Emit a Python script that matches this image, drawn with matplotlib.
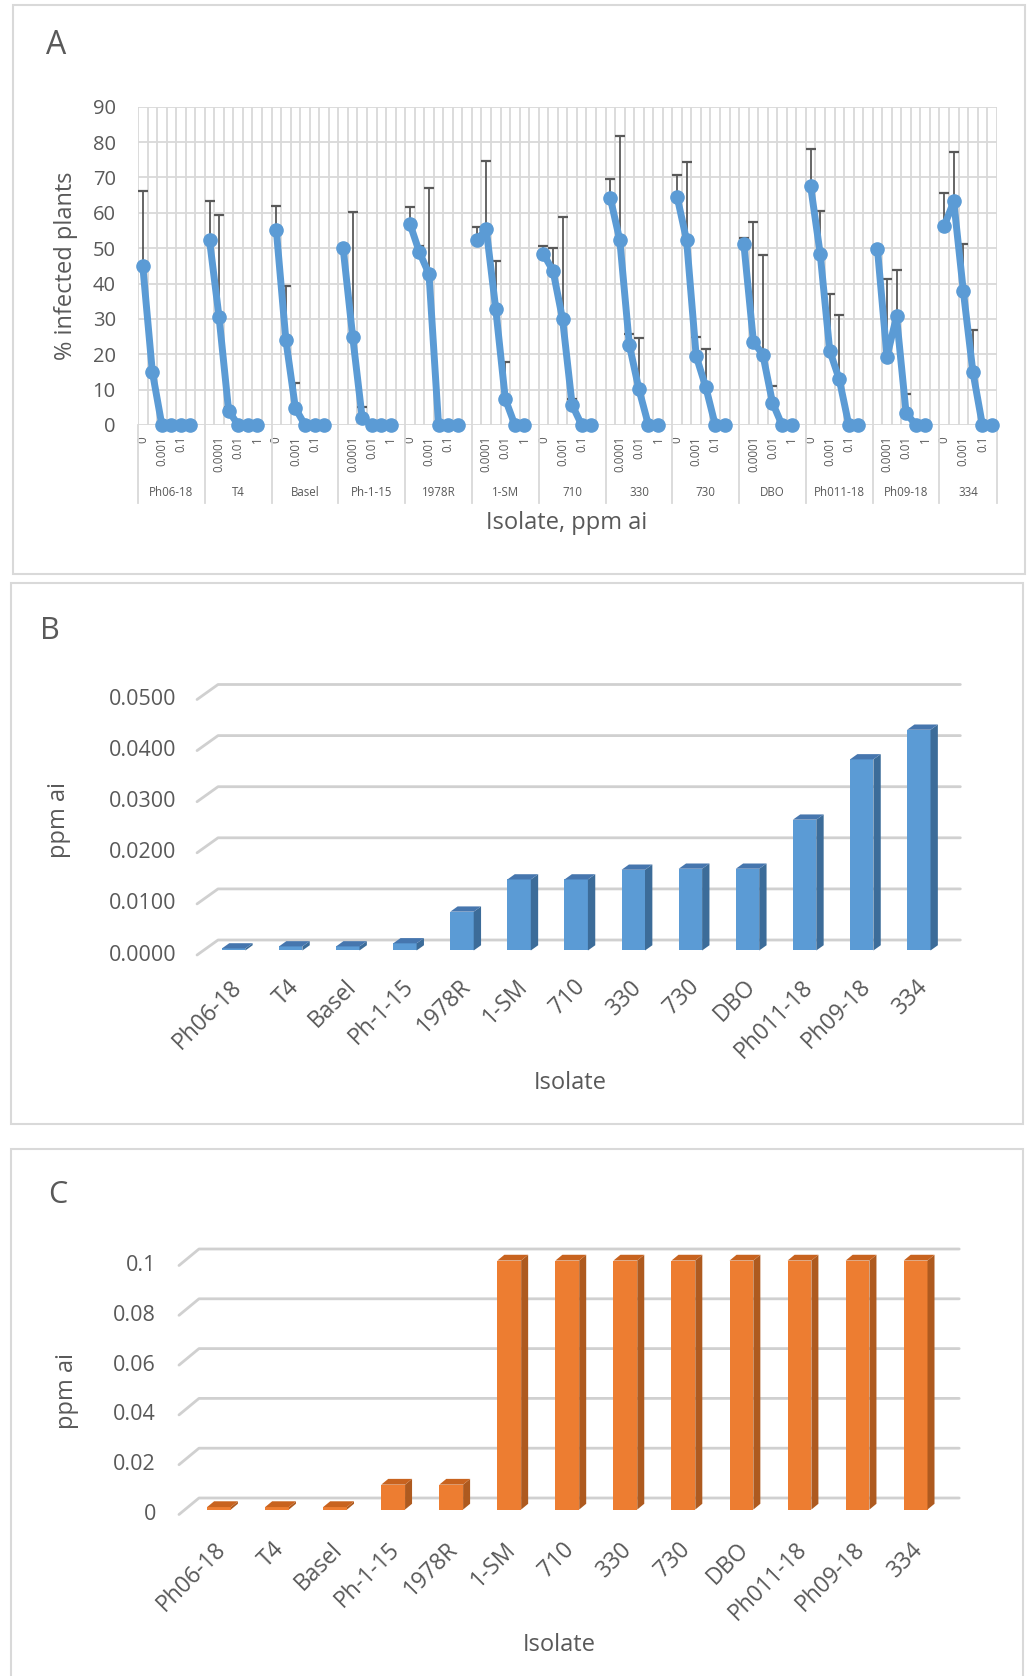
import matplotlib
matplotlib.use('Agg')
import matplotlib.pyplot as plt
import numpy as np
from matplotlib.patches import Rectangle, Polygon

plt.rcParams['font.family'] = 'Open Sans'

# isolates and doses (ppm ai)
isolates = ['Ph06-18', 'T4', 'Basel', 'Ph-1-15', '1978R', '1-SM', '710',
            '330', '730', 'DBO', 'Ph011-18', 'Ph09-18', '334']
doses = ['0', '0.0001', '0.001', '0.01', '0.1', '1']

# % infected plants per isolate, one value per dose
infected = [
    [45.0, 15.1, 0, 0, 0, 0],
    [52.2, 30.4, 4.0, 0, 0, 0],
    [55.0, 24.0, 4.7, 0, 0, 0],
    [50.0, 25.0, 1.9, 0, 0, 0],
    [56.9, 48.8, 42.7, 0, 0, 0],
    [52.2, 55.4, 32.7, 7.3, 0, 0],
    [48.3, 43.6, 29.9, 5.7, 0, 0],
    [64.2, 52.2, 22.6, 10.1, 0, 0],
    [64.6, 52.2, 19.5, 10.8, 0, 0],
    [51.2, 23.6, 19.8, 6.3, 0, 0],
    [67.5, 48.4, 21.0, 12.9, 0, 0],
    [49.8, 19.3, 30.7, 3.5, 0, 0],
    [56.3, 63.2, 37.9, 15.1, 0, 0],
]
# upper error (0 = no bar)
infected_err = [
    [21.3, 0, 0, 0, 0, 0],
    [11.0, 28.9, 1.2, 0, 0, 0],
    [7.0, 15.3, 7.1, 0, 0, 0],
    [0, 35.3, 3.3, 0, 0, 0],
    [4.6, 1.7, 24.3, 0, 0, 0],
    [3.9, 19.3, 13.7, 10.6, 0, 0],
    [2.4, 6.5, 28.8, 1.6, 0, 0],
    [5.3, 29.4, 3.1, 14.4, 0, 0],
    [6.2, 22.3, 5.5, 10.7, 0, 0],
    [1.6, 33.8, 28.4, 4.8, 0, 0],
    [10.5, 12.0, 16.1, 18.2, 0, 0],
    [0, 21.9, 13.0, 5.3, 0, 0],
    [9.3, 13.9, 13.2, 11.8, 0, 0],
]

# panel B / C values (ppm ai)
ppm_b = [0.0004, 0.0008, 0.0008, 0.0014, 0.0076, 0.0139, 0.0139,
         0.0158, 0.0160, 0.0160, 0.0256, 0.0374, 0.0432]
ppm_c = [0.001, 0.001, 0.001, 0.01, 0.01, 0.1, 0.1, 0.1, 0.1, 0.1, 0.1, 0.1, 0.1]
ticks_b = [0, 0.01, 0.02, 0.03, 0.04, 0.05]
ticks_c = [0, 0.02, 0.04, 0.06, 0.08, 0.1]

W, H = 1031, 1676
TXT = '#595959'
GRID = '#D9D9D9'
BLUE = '#5B9BD5'

fig = plt.figure(figsize=(W / 100, H / 100), dpi=100)


def axes_px(left, top, right, bottom):
    return fig.add_axes([left / W, 1 - bottom / H, (right - left) / W, (bottom - top) / H])


def ftext(x, y, s, **kw):
    fig.text(x / W, 1 - y / H, s, color=TXT, **kw)


# panel frames
for (l, t, r, b) in [(13, 5, 1025, 574), (11, 583, 1023, 1124), (11, 1149, 1023, 1680)]:
    fig.patches.append(Rectangle((l / W, 1 - b / H), (r - l) / W, (b - t) / H,
                                 transform=fig.transFigure, fill=False,
                                 edgecolor=GRID, lw=1.5))

# ---------------- A: dose response lines ----------------
per_group = 7
n_cat = per_group * (len(isolates) - 1) + len(doses)
a_top, a_bot = 106.7, 425
ax = axes_px(138, a_top, 996.7, a_bot)
ax.set_xlim(-0.5, n_cat - 0.5)
ax.set_ylim(0, 90)
for s in ax.spines.values():
    s.set_visible(False)
ax.set_yticks(range(0, 91, 10))
for v in range(0, 91, 10):
    ax.axhline(v, color=GRID, lw=1.3, zorder=0)
for k in range(n_cat + 1):
    ax.axvline(k - 0.5, color=GRID, lw=1.3, zorder=0)
ax.tick_params(axis='y', length=0, pad=16, labelsize=14.5, labelcolor=TXT)

tick_pos = []
tick_lab = []
for k in range(n_cat):
    j = k % per_group
    tick_pos.append(k)
    tick_lab.append(doses[j] if (j < len(doses) and k % 2 == 0) else '')
ax.set_xticks(tick_pos)
ax.set_xticklabels(tick_lab, rotation=90, fontsize=8.3, color=TXT)
ax.tick_params(axis='x', length=0, pad=8)

for g, name in enumerate(isolates):
    x = np.arange(len(doses)) + g * per_group
    y = np.array(infected[g])
    e = np.array(infected_err[g])
    m = e > 0
    ax.errorbar(x[m], y[m], yerr=[np.zeros(m.sum()), e[m]], fmt='none',
                ecolor='#595959', elinewidth=1.3, capsize=3.8, capthick=1.6, zorder=2)
    ax.plot(x, y, '-o', color=BLUE, lw=5, ms=9.5, zorder=3, clip_on=False)
    # group label and separators below the axis
    last = g * per_group + (per_group if g < len(isolates) - 1 else len(doses))
    ax.text((g * per_group + last - 1) / 2, -(493 - a_bot) / (a_bot - a_top), name,
            transform=ax.get_xaxis_transform(), ha='center', va='center',
            fontsize=8.3, color=TXT)
sep_y = -(503 - a_bot) / (a_bot - a_top)
for b in list(range(0, n_cat, per_group)) + [n_cat]:
    ax.plot([b - 0.5, b - 0.5], [0, sep_y], transform=ax.get_xaxis_transform(),
            color=GRID, lw=1.3, clip_on=False)

ftext(56, 45, 'A', fontsize=23, ha='center', va='center')
ftext(66, 266, '% infected plants', fontsize=17, rotation=90, ha='center', va='center')
ftext(567, 523, 'Isolate, ppm ai', fontsize=17, ha='center', va='center')


# ---------------- B / C: 3-D column charts ----------------
def column3d(values, ticks, fmt, zero_px, cat0_px, cat_px, val_px, depth_px,
             xmin, xmax, label_gap, name_dx, name_dy, front, side, topc):
    ddx = depth_px[0] / cat_px
    ddy = depth_px[1] / val_px
    ymax = ticks[-1]
    left = cat0_px + xmin * cat_px
    right = cat0_px + xmax * cat_px + depth_px[0]
    top = zero_px - (ymax + ddy) * val_px
    bx = axes_px(left, top, right, zero_px)
    bx.set_xlim(xmin, xmax + ddx)
    bx.set_ylim(0, ymax + ddy)
    bx.axis('off')
    # back wall and side wall gridlines
    for v in ticks:
        bx.plot([xmin, xmin + ddx, xmax + ddx], [v, v + ddy, v + ddy],
                color='#D0D0D0', lw=2.0, zorder=1, clip_on=False,
                solid_capstyle='round')
        bx.text(xmin - label_gap / cat_px, v, fmt(v), ha='right', va='center',
                fontsize=15.5, color=TXT)
    d1, bd, w = 0.3, 0.35, 0.41
    for i, v in enumerate(values):
        x0 = i + d1 * ddx - w / 2
        y0 = d1 * ddy
        sx, sy = bd * ddx, bd * ddy
        bx.add_patch(Rectangle((x0, y0), w, v, facecolor=front, edgecolor='none', zorder=3))
        bx.add_patch(Polygon([(x0 + w, y0), (x0 + w + sx, y0 + sy),
                              (x0 + w + sx, y0 + v + sy), (x0 + w, y0 + v)],
                             closed=True, facecolor=side, edgecolor='none', zorder=3))
        bx.add_patch(Polygon([(x0, y0 + v), (x0 + w, y0 + v),
                              (x0 + w + sx, y0 + v + sy), (x0 + sx, y0 + v + sy)],
                             closed=True, facecolor=topc, edgecolor='none', zorder=3))
        bx.text(i + name_dx / cat_px, -name_dy / val_px, isolates[i], rotation=45,
                rotation_mode='anchor', ha='right', va='top', fontsize=16.5,
                color=TXT, clip_on=False)
    return bx


column3d(ppm_b, ticks_b, lambda v: '%.4f' % v, 955, 227.3, 57.1, 5110, (21, 15),
         -0.53, 12.47, 21, 3, 20, BLUE, '#3C6C99', '#4676AE')
ftext(50, 631, 'B', fontsize=22, ha='center', va='center')
ftext(59, 820, 'ppm ai', fontsize=17, rotation=90, ha='center', va='center')
ftext(570, 1083, 'Isolate', fontsize=17, ha='center', va='center')

column3d(ppm_c, ticks_c, lambda v: '%g' % v, 1514.5, 213, 58.05, 2490, (20, 16.5),
         -0.586, 12.51, 23, 1, 23, '#ED7D31', '#AE5A1F', '#C8631F')
ftext(58, 1195, 'C', fontsize=22, ha='center', va='center')
ftext(67, 1391, 'ppm ai', fontsize=17, rotation=90, ha='center', va='center')
ftext(559, 1645, 'Isolate', fontsize=17, ha='center', va='center')

fig.savefig('out.png', dpi=100)
